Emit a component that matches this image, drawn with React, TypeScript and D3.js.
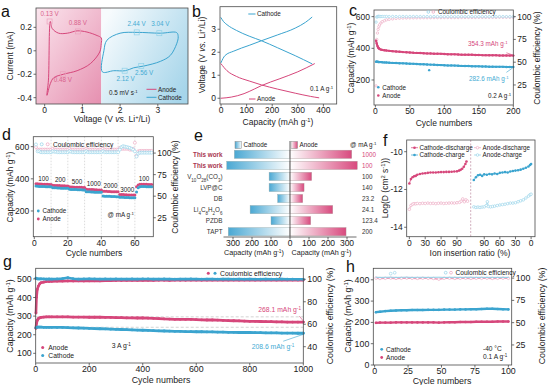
import React from 'react'
import * as d3 from 'd3'

// ---------- a: CV loops (V, mA) ----------
const aAnodeV = [0.06, 0.1, 0.15, 0.2, 0.37, 0.6, 0.86, 1.12, 1.39, 1.5, 1.5, 1.46, 1.21, 0.86, 0.5, 0.24, 0.15]
const aAnodeI = [-0.38, -0.25, 0.25, 0.19, 0.15, 0.15, 0.17, 0.16, 0.13, 0.11, 0.06, -0.01, -0.11, -0.17, -0.2, -0.23, -0.28]
const aCathV = [1.53, 1.57, 1.65, 2.0, 2.45, 3.07, 3.5, 3.54, 3.5, 3.33, 3.07, 2.63, 2.36, 2.14, 1.83]
const aCathI = [-0.18, 0.0, 0.09, 0.15, 0.157, 0.15, 0.155, 0.12, 0.06, -0.04, -0.09, -0.13, -0.145, -0.17, -0.17]
const aAnodePeakV = [0.13, 0.88, 0.48]
const aAnodePeakI = [0.25, 0.165, -0.2]
const aCathPeakV = [2.44, 3.04, 2.12, 2.56]
const aCathPeakI = [0.157, 0.15, -0.17, -0.13]

// ---------- b: charge/discharge profiles ----------
const bCathDisCap = [0, 10, 23, 60, 110, 158, 220, 290, 355]
const bCathDisV = [3.5, 3.33, 3.2, 2.95, 2.7, 2.5, 2.2, 1.85, 1.5]
const bCathChgCap = [0, 15, 50, 110, 158, 220, 290, 330, 355]
const bCathChgV = [1.55, 1.85, 2.05, 2.3, 2.5, 2.75, 3.05, 3.3, 3.52]
const bAnDisCap = [0, 23, 60, 110, 158, 220, 290, 350, 382]
const bAnDisV = [1.5, 1.2, 0.95, 0.75, 0.58, 0.4, 0.22, 0.08, 0.02]
const bAnChgCap = [0, 40, 90, 130, 158, 230, 300, 365]
const bAnChgV = [0.0, 0.05, 0.2, 0.4, 0.55, 0.85, 1.15, 1.5]

// ---------- c: cycling at 0.2 A/g ----------
const cCycles = [1, 2, 3, 4, 5, 6, 8, 10, 13, 16, 20, 25, 30, 35, 40, 45, 50, 55, 60, 65, 70, 75, 80, 85, 90, 95, 100, 105, 110, 115, 120, 125, 130, 135, 140, 145, 150, 155, 160, 165, 170, 175, 180, 185, 190, 195, 200]
const cAnode = [448, 430, 415, 405, 400, 396, 392, 390, 388, 386, 384, 382, 380, 378, 376, 375, 374, 372, 371, 370, 369, 368, 367, 366, 366, 365, 364, 363, 362, 362, 361, 360, 360, 359, 359, 358, 358, 357, 357, 356, 356, 356, 355, 355, 355, 354, 354]
const cCathode = [315, 316, 315, 314, 314, 313, 313, 312, 311, 310, 309, 308, 307, 306, 305, 304, 303, 302, 301, 300, 299, 298, 297, 296, 295, 294, 293, 292, 292, 291, 290, 289, 288, 288, 287, 286, 286, 285, 285, 284, 284, 283, 283, 283, 282, 282, 282]
const cCEAnode = [24, 75, 82, 86, 89, 91, 93, 94.5, 95.5, 96.5, 97, 97.5, 98, 98.2, 98.4, 98.5, 98.6, 98.6, 98.7, 98.7, 98.8, 98.8, 98.8, 98.9, 98.9, 98.9, 99, 99, 99, 99, 99, 99.1, 99.1, 99.1, 99.1, 99.1, 99.2, 99.2, 99.2, 99.2, 99.2, 99.2, 99.3, 99.3, 99.3, 99.3, 99.3]
const cCECathode = [94, 99.5, 100, 100.3, 100.2, 100.2, 100.1, 100.2, 100.1, 100.2, 100.1, 100.2, 100.1, 100.1, 100.2, 100.1, 100.1, 100.2, 100.1, 100.1, 100.1, 100.1, 100, 100.1, 100.1, 100, 100.1, 100, 100.1, 100, 100, 100.1, 100, 100, 100.1, 100, 100, 100.1, 100, 100, 100, 100, 100.1, 100, 100, 100, 100]
const cCathOutCycle = [78]
const cCathOutValue = [262]

// ---------- d: rate capability ----------
const dAnode = [
  370, 369, 368, 368, 367, 367, 366, 366, 365, 365,
  360, 359, 359, 358, 358, 357, 357, 357, 356, 356,
  350, 349, 349, 348, 348, 347, 347, 347, 346, 346,
  335, 334, 334, 333, 333, 332, 332, 331, 331, 331,
  323, 322, 322, 321, 321, 320, 320, 320, 319, 319,
  303, 302, 302, 301, 301, 300, 300, 300, 299, 299,
  350, 362, 366, 367, 367, 366, 366, 365, 365, 364]
const dCathode = [
  355, 354, 353, 353, 352, 352, 351, 351, 351, 350,
  345, 344, 344, 343, 343, 342, 342, 342, 341, 341,
  335, 334, 334, 333, 333, 332, 332, 332, 331, 331,
  320, 319, 319, 318, 318, 317, 317, 317, 316, 316,
  293, 292, 292, 291, 291, 290, 290, 290, 289, 289,
  286, 285, 285, 284, 284, 284, 283, 283, 283, 282,
  318, 345, 350, 352, 352, 352, 351, 351, 351, 350]
const dCEAnode = [
  107, 104, 104, 104, 104, 104, 104, 104, 104, 104,
  105, 104, 104, 104, 104, 104, 104, 104, 104, 104,
  105, 104, 104, 104, 104, 104, 104, 104, 104, 104,
  105, 104, 104, 104, 104, 104, 104, 103.5, 104, 104,
  105, 104, 104, 104, 104, 104, 104, 104, 104, 104,
  106, 105, 105, 105, 105, 105, 104, 104, 105, 112,
  97, 102, 102.5, 102.5, 102.5, 102.5, 102.5, 102.5, 102.5, 102.5]
const dCECathode = [
  110, 102, 102, 101, 101, 101, 101, 101, 101, 101,
  102, 101.5, 101.5, 101, 101, 101, 101, 101, 101, 101,
  102, 101.5, 101, 101, 101, 101, 101, 101, 101, 101,
  102, 101, 101, 101, 101, 101, 101, 101, 101, 101,
  102, 101, 101, 101, 101, 101, 101, 101, 101, 101,
  104, 107, 108, 107.5, 107, 106.5, 106, 105, 104, 102,
  96, 99.5, 100.5, 100.5, 100.5, 100.5, 100.5, 100.5, 100.5, 100.5]
const dSteps = [10, 20, 30, 40, 50, 60]
const dRates = ['100', '200', '500', '1000', '2000', '3000', '100']

// ---------- e: comparison ----------
const eNames = ['This work', 'This work', 'V10O28(CO3)', 'LVP@C', 'DB', 'Li4C8H2O6', 'PZDB', 'TAPT']
const eCathode = [293, 333, 110, 110, 65, 210, 100, 325]
const eAnode = [325, 354, 114, 74, 67, 225, 109, 295]
const eRates = ['1000', '100', '100', '140', '23.2', '24.1', '123.4', '200']

// ---------- f: GITT diffusion ----------
const fCathDisRatio = [0, 3, 6, 9, 12, 15, 20, 25, 30, 35, 40, 45, 50, 55, 60, 65, 70, 75, 80, 85, 90, 94, 97, 100, 103, 106, 108]
const fCathDisLogD = [-11.68, -11.45, -11.35, -11.3, -11.28, -11.22, -11.18, -11.15, -11.14, -11.12, -11.1, -11.1, -11.1, -11.09, -11.08, -11.08, -11.07, -11.07, -11.06, -11.05, -11.04, -11.0, -10.96, -10.9, -10.8, -10.65, -10.52]
const fAnDisRatio = [0, 3, 6, 9, 12, 15, 20, 25, 30, 35, 40, 45, 50, 55, 60, 65, 70, 75, 80, 85, 90, 95, 98, 101, 104, 107, 110]
const fAnDisLogD = [-13.05, -12.85, -12.78, -12.75, -12.76, -12.74, -12.75, -12.73, -12.74, -12.72, -12.74, -12.73, -12.75, -12.73, -12.72, -12.74, -12.73, -12.72, -12.71, -12.72, -12.7, -12.68, -12.62, -12.5, -12.65, -12.55, -12.62]
const fCathChgRatio = [110, 106, 102, 98, 94, 90, 85, 80, 75, 70, 65, 60, 55, 50, 45, 40, 35, 30, 25, 20, 15, 10, 5, 2, 0]
const fCathChgLogD = [-11.5, -11.35, -11.25, -11.22, -11.28, -11.2, -11.22, -11.18, -11.2, -11.15, -11.18, -11.12, -11.1, -11.08, -11.1, -11.05, -11.02, -11.0, -10.98, -10.95, -10.9, -10.85, -10.78, -10.7, -10.65]
const fAnChgRatio = [110, 106, 102, 98, 94, 90, 86, 84, 82, 78, 74, 70, 65, 60, 55, 50, 45, 40, 35, 30, 25, 20, 15, 10, 5, 2, 0]
const fAnChgLogD = [-12.92, -12.95, -12.93, -12.95, -12.93, -12.92, -12.85, -12.65, -12.9, -12.92, -12.9, -12.88, -12.85, -12.82, -12.8, -12.78, -12.75, -12.72, -12.72, -12.7, -12.65, -12.6, -12.55, -12.45, -12.35, -12.28, -12.25]

// ---------- g: long cycling at 3 A/g ----------
const gCycles = [1, 3, 6, 10, 15, 20, 30, 40, 50, 60, 80, 100, 120, 140, 160, 180, 200, 220, 240, 260, 280, 300, 320, 340, 360, 380, 400, 420, 440, 460, 480, 500, 520, 540, 560, 580, 600, 620, 640, 660, 680, 700, 720, 740, 760, 780, 800, 820, 840, 860, 880, 900, 920, 940, 960, 980, 1000]
const gAnode = [235, 262, 278, 287, 291, 293, 295, 296, 296, 296, 296, 296, 296, 295, 295, 295, 294, 294, 294, 293, 293, 292, 292, 291, 291, 290, 290, 289, 288, 287, 285, 284, 283, 283, 282, 282, 281, 280, 279, 279, 278, 277, 276, 275, 274, 273, 272, 272, 271, 270, 270, 269, 269, 268, 268, 268, 268]
const gCathode = [238, 240, 241, 241, 241, 241, 240, 240, 240, 240, 239, 239, 238, 237, 236, 235, 234, 233, 232, 231, 230, 229, 228, 227, 226, 225, 224, 223, 222, 221, 220, 219, 218, 218, 217, 217, 216, 216, 215, 215, 214, 214, 213, 213, 212, 212, 212, 211, 211, 210, 210, 210, 209, 209, 209, 208, 208]
const gCEAnode = [70, 84, 91, 94, 96, 97, 97.5, 98, 98, 98.2, 98.3, 98.4, 98.5, 98.5, 98.6, 98.5, 98.6, 98.7, 98.6, 98.8, 98.8, 98.9, 98.9, 99, 99, 99, 99, 99.1, 99, 99.1, 99.1, 99, 99.2, 99.1, 99.1, 99.2, 99.2, 99.1, 99.2, 99.2, 99.3, 99.2, 99.2, 99.3, 99.2, 99.3, 99.3, 99.2, 99.3, 99.3, 99.3, 99.2, 99.3, 99.3, 99.4, 99.3, 99.3]
const gCECathode = [101, 100.6, 100.4, 100.3, 100.3, 100.4, 100.3, 100.2, 100.3, 100.2, 100.3, 100.6, 101.4, 100.5, 100.2, 100.3, 100.4, 100.3, 100.2, 100.3, 100.2, 100.3, 100.2, 100.2, 100.3, 100.2, 100.3, 100.3, 100.2, 100.2, 100.3, 100.2, 100.1, 100.2, 100.2, 100.3, 100.2, 100.1, 100.2, 100.2, 100.1, 100.2, 100.2, 100.1, 100.2, 100.1, 100.2, 100.1, 100.1, 100.2, 100.1, 100.1, 100.2, 100.1, 100.1, 100.0, 100.0]
const gGuides = [296, 240]

// ---------- h: -40 °C cycling ----------
const hCycles = [1, 4, 8, 12, 16, 20, 24, 28, 32, 36, 40, 44, 48, 52, 56, 60, 64, 68, 72, 76, 80, 84, 88, 92, 96, 100]
const hCathode = [248, 250, 253, 255, 256, 257, 257, 258, 258, 258, 259, 259, 259, 260, 260, 260, 261, 261, 262, 262, 263, 264, 264, 263, 262, 261]
const hAnode = [198, 199, 199, 199, 200, 200, 200, 200, 200, 200, 200, 200, 199, 200, 201, 201, 202, 202, 202, 203, 203, 203, 203, 204, 204, 204]
const hCEAnode = [100, 99.6, 99.8, 100, 99.7, 99.8, 100, 99.8, 99.7, 99.9, 99.8, 99.6, 98.8, 99.8, 99.9, 99.7, 99.8, 99.9, 99.7, 99.8, 99.8, 99.9, 99.7, 99.8, 99.9, 99.8]
const hCECathode = [101, 100.8, 100.9, 101, 100.8, 100.9, 101, 100.8, 100.9, 100.9, 100.8, 100.9, 101, 100.8, 100.9, 100.9, 100.8, 100.9, 101, 100.8, 100.9, 100.8, 100.9, 100.8, 100.9, 100.8]
const hCEOutCycle = [12, 15]
const hCEOutValue = [105, 106]

const PINK = '#d6477b'
const BLUE = '#3ba4cf'
const PINK_L = '#eba2bd'
const BLUE_L = '#8fd0e7'
const AX = '#4a4a4a'
const FONT = '"Liberation Sans", Arial, Helvetica, sans-serif'

const zip = (a: number[], b: number[]) => a.map((v, i) => [v, b[i]] as [number, number])
const sup = (s: string) => <tspan baselineShift="super" fontSize="68%">{s}</tspan>
const gUnit = <>(mAh g{sup('-1')})</>

type Sc = d3.ScaleLinear<number, number>

function Frame({ x, y }: { x: Sc; y: Sc }) {
  const [x0, x1] = x.range()
  const [y0, y1] = y.range()
  return <rect x={Math.min(x0, x1)} y={Math.min(y0, y1)} width={Math.abs(x1 - x0)} height={Math.abs(y1 - y0)} fill="none" stroke={AX} strokeWidth={0.8} />
}

function XAxis({ s, ticks, y, fs = 8.5 }: { s: Sc; ticks: number[]; y: number; fs?: number }) {
  return (
    <g>
      {ticks.map((t, i) => (
        <g key={i}>
          <line x1={s(t)} x2={s(t)} y1={y} y2={y + 2.5} stroke={AX} strokeWidth={0.8} />
          <text x={s(t)} y={y + 3 + fs * 0.72} fontSize={fs} textAnchor="middle" fill="#222">{t}</text>
        </g>
      ))}
    </g>
  )
}

function YAxis({ s, ticks, x, right = false, fs = 8.5 }: { s: Sc; ticks: number[]; x: number; right?: boolean; fs?: number }) {
  const d = right ? 1 : -1
  return (
    <g>
      {ticks.map((t, i) => (
        <g key={i}>
          <line x1={x} x2={x + d * 2.5} y1={s(t)} y2={s(t)} stroke={AX} strokeWidth={0.8} />
          <text x={x + d * 4} y={s(t) + fs * 0.35} fontSize={fs} textAnchor={right ? 'start' : 'end'} fill="#222">{t}</text>
        </g>
      ))}
    </g>
  )
}

function VTitle({ x, y, fs = 8.5, children }: { x: number; y: number; fs?: number; children: React.ReactNode }) {
  return <text transform={`translate(${x},${y}) rotate(-90)`} textAnchor="middle" fontSize={fs} fill="#222">{children}</text>
}

function Dots({ xs, ys, x, y, r = 1.3, fill, stroke, sw = 0.6 }: { xs: number[]; ys: number[]; x: Sc; y: Sc; r?: number; fill: string; stroke?: string; sw?: number }) {
  return <g>{xs.map((v, i) => <circle key={i} cx={x(v)} cy={y(ys[i])} r={r} fill={fill} stroke={stroke || 'none'} strokeWidth={sw} />)}</g>
}

function Trace({ xs, ys, x, y, color, w = 2.2, curve = d3.curveLinear }: { xs: number[]; ys: number[]; x: Sc; y: Sc; color: string; w?: number; curve?: d3.CurveFactory }) {
  const line = d3.line<[number, number]>().x(d => x(d[0])).y(d => y(d[1])).curve(curve)
  return <path d={line(zip(xs, ys)) || ''} fill="none" stroke={color} strokeWidth={w} strokeLinejoin="round" strokeLinecap="round" />
}

const chem = (s: string) => s.split(/(\d+)/).map((p, i) => /^\d+$/.test(p)
  ? <tspan key={i} baselineShift="sub" fontSize="72%">{p}</tspan>
  : <tspan key={i}>{p}</tspan>)

const PanelLabel = ({ x, y, t }: { x: number; y: number; t: string }) => <text x={x} y={y} fontSize={16} fill="#111">{t}</text>

export default function App() {
  // scales
  const aX = d3.scaleLinear().domain([-0.23, 3.8]).range([36, 188])
  const aY = d3.scaleLinear().domain([-0.454, 0.365]).range([104, 8])
  const bX = d3.scaleLinear().domain([-4, 452]).range([220, 336.7])
  const bY = d3.scaleLinear().domain([-0.25, 3.98]).range([104, 6.7])
  const cX = d3.scaleLinear().domain([-2, 200]).range([374, 513.3])
  const cY = d3.scaleLinear().domain([42, 642]).range([105, 10])
  const cY2 = d3.scaleLinear().domain([3, 107.3]).range([105, 10])
  const dX = d3.scaleLinear().domain([-0.6, 71]).range([33.3, 153.3])
  const dY = d3.scaleLinear().domain([40, 662]).range([236.7, 136.7])
  const dY2 = d3.scaleLinear().domain([3, 119]).range([236.7, 136.7])
  const eL = d3.scaleLinear().domain([0, 100]).range([290, 271])
  const eR = d3.scaleLinear().domain([0, 100]).range([290, 309])
  const eY = d3.scaleBand<number>().domain(eNames.map((_, i) => i)).range([147.4, 238.6]).padding(0.25)
  const fXL = d3.scaleLinear().domain([-5, 116]).range([406.7, 470.7])
  const fXR = d3.scaleLinear().domain([116, -7.5]).range([470.7, 535])
  const fY = d3.scaleLinear().domain([-14.5, -9.38]).range([236.7, 140])
  const gX = d3.scaleLinear().domain([0, 1000]).range([35.7, 303.3])
  const gY = d3.scaleLinear().domain([48, 557]).range([363, 268.3])
  const gY2 = d3.scaleLinear().domain([25.5, 109.8]).range([363, 268.3])
  const hX = d3.scaleLinear().domain([-1, 102.5]).range([373.3, 511.7])
  const hY = d3.scaleLinear().domain([0, 454]).range([365, 268.3])
  const hY2 = d3.scaleLinear().domain([2.5, 111]).range([365, 268.3])

  const cv = d3.line<[number, number]>().x(d => aX(d[0])).y(d => aY(d[1])).curve(d3.curveCatmullRomClosed.alpha(0.5))
  const dIdx = dAnode.map((_, i) => i + 1)
  const eBh = eY.bandwidth()
  const fs = 6.3

  return (
    <svg width={549} height={385} fontFamily={FONT} style={{ position: 'absolute', left: 0, top: 0, background: '#fff' }}>
      <defs>
        <linearGradient id="aPink" x1="0" y1="0" x2="1" y2="1">
          <stop offset="0" stopColor="#fbe6ee" />
          <stop offset="1" stopColor="#e690b0" />
        </linearGradient>
        <linearGradient id="aBlue" x1="0" y1="0.2" x2="1" y2="0.8">
          <stop offset="0" stopColor="#f7fbfd" />
          <stop offset="1" stopColor="#a6d5ea" />
        </linearGradient>
        <linearGradient id="eCat" x1="0" y1="0" x2="1" y2="0">
          <stop offset="0" stopColor="#4aa8d3" />
          <stop offset="1" stopColor="#ffffff" />
        </linearGradient>
        <linearGradient id="eAn" x1="0" y1="0" x2="1" y2="0">
          <stop offset="0" stopColor="#ffffff" />
          <stop offset="1" stopColor="#d84a7e" />
        </linearGradient>
      </defs>

      {/* ---------------- a ---------------- */}
      <PanelLabel x={1} y={17} t="a" />
      <rect x={aX(-0.23)} y={aY(0.365)} width={aX(1.5) - aX(-0.23)} height={aY(-0.454) - aY(0.365)} fill="url(#aPink)" />
      <rect x={aX(1.5)} y={aY(0.365)} width={aX(3.8) - aX(1.5)} height={aY(-0.454) - aY(0.365)} fill="url(#aBlue)" />
      <path d={cv(zip(aAnodeV, aAnodeI)) || ''} fill="none" stroke={PINK} strokeWidth={1} />
      <path d={cv(zip(aCathV, aCathI)) || ''} fill="none" stroke={BLUE} strokeWidth={1} />
      {aAnodePeakV.map((v, i) => {
        const off = [[0, -5.5], [0, -6.5], [0, 8]][i]
        return (
          <g key={'ap' + i}>
            <rect x={aX(v) - 2.5} y={aY(aAnodePeakI[i]) - 2.5} width={5} height={5} fill="none" stroke={PINK_L} strokeWidth={0.7} />
            <text x={aX(v) + off[0]} y={aY(aAnodePeakI[i]) + off[1]} fontSize={fs} fill="#d9628c" textAnchor="middle">{v.toFixed(2)} V</text>
          </g>
        )
      })}
      {aCathPeakV.map((v, i) => {
        const off = [[0, -6.5], [1, -7], [1, 10], [3, 9]][i]
        return (
          <g key={'cp' + i}>
            <rect x={aX(v) - 2.5} y={aY(aCathPeakI[i]) - 2.5} width={5} height={5} fill="none" stroke={BLUE_L} strokeWidth={0.7} />
            <text x={aX(v) + off[0]} y={aY(aCathPeakI[i]) + off[1]} fontSize={fs} fill="#45abd3" textAnchor="middle">{v.toFixed(2)} V</text>
          </g>
        )
      })}
      <Frame x={aX} y={aY} />
      <XAxis s={aX} ticks={[0, 1, 2, 3]} y={104} />
      <YAxis s={aY} ticks={[-0.4, -0.2, 0, 0.2]} x={36} />
      <text x={109} y={95} fontSize={fs} fill="#222">0.5 mV s{sup('-1')}</text>
      <line x1={146.5} x2={156.5} y1={89.3} y2={89.3} stroke={PINK} strokeWidth={1} />
      <text x={158} y={91.5} fontSize={fs} fill="#222">Anode</text>
      <line x1={146.5} x2={156.5} y1={97.3} y2={97.3} stroke={BLUE} strokeWidth={1} />
      <text x={158} y={99.5} fontSize={fs} fill="#222">Cathode</text>
      <text x={112} y={122} fontSize={8.5} textAnchor="middle" fill="#222">Voltage (V <tspan fontStyle="italic">vs.</tspan> Li{sup('+')}/Li)</text>
      <VTitle x={13} y={56}>Current (mA)</VTitle>

      {/* ---------------- b ---------------- */}
      <PanelLabel x={192} y={17} t="b" />
      <Trace xs={bCathDisCap} ys={bCathDisV} x={bX} y={bY} color={BLUE} w={1} curve={d3.curveMonotoneX} />
      <Trace xs={bCathChgCap} ys={bCathChgV} x={bX} y={bY} color={BLUE} w={1} curve={d3.curveMonotoneX} />
      <Trace xs={bAnDisCap} ys={bAnDisV} x={bX} y={bY} color={PINK} w={1} curve={d3.curveMonotoneX} />
      <Trace xs={bAnChgCap} ys={bAnChgV} x={bX} y={bY} color={PINK} w={1} curve={d3.curveMonotoneX} />
      <Frame x={bX} y={bY} />
      <XAxis s={bX} ticks={[0, 100, 200, 300, 400]} y={104} />
      <YAxis s={bY} ticks={[0, 1, 2, 3]} x={220} />
      <line x1={248.3} x2={255.5} y1={14} y2={14} stroke={BLUE} strokeWidth={1} />
      <text x={257} y={16.2} fontSize={fs} fill="#222">Cathode</text>
      <line x1={249} x2={255.5} y1={99} y2={99} stroke={PINK} strokeWidth={1} />
      <text x={257} y={101.2} fontSize={fs} fill="#222">Anode</text>
      <text x={310} y={91} fontSize={fs} fill="#222">0.1 A g{sup('-1')}</text>
      <text x={278} y={124.5} fontSize={8.5} textAnchor="middle" fill="#222">Capacity {gUnit}</text>
      <VTitle x={205} y={55}>Voltage (V <tspan fontStyle="italic">vs.</tspan> Li{sup('+')}/Li)</VTitle>

      {/* ---------------- c ---------------- */}
      <PanelLabel x={349} y={16} t="c" />
      <Dots xs={cCycles} ys={cCEAnode} x={cX} y={cY2} r={1.2} fill="#fff" stroke={PINK_L} />
      <Dots xs={cCycles} ys={cCECathode} x={cX} y={cY2} r={1.2} fill="#fff" stroke={BLUE_L} />
      <Trace xs={cCycles} ys={cAnode} x={cX} y={cY} color={PINK} w={2} />
      <Dots xs={cCycles} ys={cAnode} x={cX} y={cY} r={1.2} fill={PINK} />
      <Trace xs={cCycles} ys={cCathode} x={cX} y={cY} color={BLUE} w={2} />
      <Dots xs={cCycles} ys={cCathode} x={cX} y={cY} r={1.2} fill={BLUE} />
      <Dots xs={cCathOutCycle} ys={cCathOutValue} x={cX} y={cY} r={1.2} fill={BLUE} />
      <Frame x={cX} y={cY} />
      <XAxis s={cX} ticks={[0, 50, 100, 150, 200]} y={105} />
      <YAxis s={cY} ticks={[200, 400, 600]} x={374} />
      <YAxis s={cY2} ticks={[25, 50, 75, 100]} x={513.3} right />
      <circle cx={428.3} cy={12} r={1.3} fill="#fff" stroke={BLUE_L} strokeWidth={0.7} />
      <circle cx={433.3} cy={12} r={1.3} fill="#fff" stroke={PINK_L} strokeWidth={0.7} />
      <text x={438} y={14.2} fontSize={fs} fill="#222">Coulombic efficiency</text>
      <text x={468} y={45.5} fontSize={fs} fill={PINK}>{cAnode[cAnode.length - 1] + 0.3} mAh g{sup('-1')}</text>
      <line x1={cX(190)} y1={cY(372)} x2={cX(199)} y2={cY(358)} stroke={PINK} strokeWidth={0.6} />
      <text x={469} y={80.5} fontSize={fs} fill="#45abd3">{cCathode[cCathode.length - 1] + 0.6} mAh g{sup('-1')}</text>
      <line x1={cX(190)} y1={cY(248)} x2={cX(199)} y2={cY(276)} stroke={BLUE} strokeWidth={0.6} />
      <circle cx={378.3} cy={87.3} r={1.3} fill={BLUE} />
      <text x={382.3} y={89.5} fontSize={fs} fill="#222">Cathode</text>
      <circle cx={378.3} cy={95.5} r={1.3} fill={PINK} />
      <text x={382.3} y={97.7} fontSize={fs} fill="#222">Anode</text>
      <text x={488} y={98} fontSize={fs} fill="#222">0.2 A g{sup('-1')}</text>
      <text x={444} y={125.5} fontSize={8.5} textAnchor="middle" fill="#222">Cycle numbers</text>
      <VTitle x={354.3} y={58}>Capacity {gUnit}</VTitle>
      <VTitle x={540} y={58}>Coulombic efficiency (%)</VTitle>

      {/* ---------------- d ---------------- */}
      <PanelLabel x={2} y={140} t="d" />
      {dSteps.map(s => <line key={s} x1={dX(s)} x2={dX(s)} y1={136.7} y2={236.7} stroke="#c4c4c4" strokeWidth={0.6} strokeDasharray="1.5 1.5" />)}
      <Dots xs={dIdx} ys={dCEAnode} x={dX} y={dY2} r={1.5} fill="#fff" stroke={PINK_L} />
      <Dots xs={dIdx} ys={dCECathode} x={dX} y={dY2} r={1.5} fill="#fff" stroke={BLUE_L} />
      <Dots xs={dIdx} ys={dAnode} x={dX} y={dY} r={1.5} fill={PINK} />
      <Dots xs={dIdx} ys={dCathode} x={dX} y={dY} r={1.5} fill={BLUE} />
      {dRates.map((r, i) => (
        <text key={i} x={dX(i * 10 + 5.5)} y={dY(dAnode[i * 10 + 2]) - 3} fontSize={fs} textAnchor="middle" fill="#222">{r}</text>
      ))}
      <Frame x={dX} y={dY} />
      <XAxis s={dX} ticks={[0, 20, 40, 60]} y={236.7} />
      <YAxis s={dY} ticks={[200, 400, 600]} x={33.3} />
      <YAxis s={dY2} ticks={[25, 50, 75, 100]} x={153.3} right />
      <circle cx={41.7} cy={144.3} r={1.5} fill="#fff" stroke={BLUE_L} strokeWidth={0.7} />
      <circle cx={47.7} cy={144.3} r={1.5} fill="#fff" stroke={PINK_L} strokeWidth={0.7} />
      <text x={53} y={146.6} fontSize={6.6} fill="#222">Coulombic efficiency</text>
      <circle cx={38.3} cy={211} r={1.4} fill={BLUE} />
      <text x={42.5} y={213.3} fontSize={fs} fill="#222">Cathode</text>
      <circle cx={38.3} cy={219} r={1.4} fill={PINK} />
      <text x={42.5} y={221.3} fontSize={fs} fill="#222">Anode</text>
      <text x={107.5} y={217} fontSize={fs} fill="#222">@ mA g{sup('-1')}</text>
      <text x={94} y={256} fontSize={8.5} textAnchor="middle" fill="#222">Cycle numbers</text>
      <VTitle x={13} y={187}>Capacity {gUnit}</VTitle>
      <VTitle x={178} y={187}>Coulombic efficiency (%)</VTitle>

      {/* ---------------- e ---------------- */}
      <PanelLabel x={194} y={141} t="e" />
      {eNames.map((n, i) => (
        <g key={i}>
          <rect x={eL(eCathode[i])} y={eY(i)} width={eL(0) - eL(eCathode[i])} height={eBh} fill="url(#eCat)" stroke="#9aa" strokeWidth={0.4} />
          <rect x={eR(0)} y={eY(i)} width={eR(eAnode[i]) - eR(0)} height={eBh} fill="url(#eAn)" stroke="#a99" strokeWidth={0.4} />
          <text x={222.5} y={(eY(i) || 0) + eBh / 2 + 2.2} fontSize={6.3} textAnchor="end" fill={i < 2 ? '#a8364f' : '#333'} fontWeight={i < 2 ? 'bold' : 'normal'}>{chem(n)}</text>
          <text x={362} y={(eY(i) || 0) + eBh / 2 + 2.2} fontSize={6.3} fill={i < 2 ? PINK : '#333'}>{eRates[i]}</text>
        </g>
      ))}
      <line x1={290} x2={290} y1={141} y2={237} stroke="#222" strokeWidth={0.7} />
      <line x1={eL(350)} x2={eR(350)} y1={237} y2={237} stroke={AX} strokeWidth={0.8} />
      <XAxis s={eL} ticks={[300, 200, 100, 0]} y={237} />
      <XAxis s={eR} ticks={[100, 200, 300]} y={237} />
      <rect x={235} y={141.5} width={6.5} height={7} fill="url(#eCat)" stroke="#888" strokeWidth={0.5} />
      <text x={243.5} y={147.3} fontSize={fs} fill="#222">Cathode</text>
      <rect x={291} y={141.5} width={6.5} height={7} fill="url(#eAn)" stroke="#888" strokeWidth={0.5} />
      <text x={299.5} y={147.3} fontSize={fs} fill="#222">Anode</text>
      <text x={350} y={147} fontSize={fs} fill="#222">@ mA g{sup('-1')}</text>
      <text x={254} y={255.3} fontSize={7.2} textAnchor="middle" fill="#222">Capacity {gUnit}</text>
      <text x={321.5} y={255.3} fontSize={7.2} textAnchor="middle" fill="#222">Capacity {gUnit}</text>

      {/* ---------------- f ---------------- */}
      <PanelLabel x={383} y={146} t="f" />
      <line x1={470.7} x2={470.7} y1={140} y2={236.7} stroke="#b27a94" strokeWidth={0.6} strokeDasharray="2 1.5" />
      <Trace xs={fAnDisRatio} ys={fAnDisLogD} x={fXL} y={fY} color={PINK_L} w={0.7} />
      <Dots xs={fAnDisRatio} ys={fAnDisLogD} x={fXL} y={fY} r={1.3} fill="#fff" stroke={PINK_L} />
      <Trace xs={fAnChgRatio} ys={fAnChgLogD} x={fXR} y={fY} color={BLUE_L} w={0.7} />
      <Dots xs={fAnChgRatio} ys={fAnChgLogD} x={fXR} y={fY} r={1.3} fill="#fff" stroke={BLUE_L} />
      <Trace xs={fCathDisRatio} ys={fCathDisLogD} x={fXL} y={fY} color={PINK} w={0.8} />
      <Dots xs={fCathDisRatio} ys={fCathDisLogD} x={fXL} y={fY} r={1.3} fill={PINK} />
      <Trace xs={fCathChgRatio} ys={fCathChgLogD} x={fXR} y={fY} color={BLUE} w={0.8} />
      <Dots xs={fCathChgRatio} ys={fCathChgLogD} x={fXR} y={fY} r={1.3} fill={BLUE} />
      <Frame x={fXL.copy().range([406.7, 535])} y={fY} />
      <XAxis s={fXL} ticks={[0, 30, 60, 90]} y={236.7} />
      <XAxis s={fXR} ticks={[90, 60, 30, 0]} y={236.7} />
      <YAxis s={fY} ticks={[-14, -12, -10]} x={406.7} />
      <line x1={411} x2={418} y1={147.7} y2={147.7} stroke={PINK} strokeWidth={0.7} />
      <circle cx={414.5} cy={147.7} r={1.3} fill={PINK} />
      <text x={419.5} y={150} fontSize={fs} fill="#222">Cathode-discharge</text>
      <line x1={411} x2={418} y1={155} y2={155} stroke={BLUE} strokeWidth={0.7} />
      <circle cx={414.5} cy={155} r={1.3} fill={BLUE} />
      <text x={419.5} y={157.3} fontSize={fs} fill="#222">Cathode-charge</text>
      <line x1={474} x2={481} y1={147.7} y2={147.7} stroke={PINK_L} strokeWidth={0.7} />
      <circle cx={477.5} cy={147.7} r={1.3} fill="#fff" stroke={PINK_L} strokeWidth={0.6} />
      <text x={482.5} y={150} fontSize={fs} fill="#222">Anode-discharge</text>
      <line x1={474} x2={481} y1={155} y2={155} stroke={BLUE_L} strokeWidth={0.7} />
      <circle cx={477.5} cy={155} r={1.3} fill="#fff" stroke={BLUE_L} strokeWidth={0.6} />
      <text x={482.5} y={157.3} fontSize={fs} fill="#222">Anode-charge</text>
      <text x={470} y={256} fontSize={8.5} textAnchor="middle" fill="#222">Ion insertion ratio (%)</text>
      <VTitle x={387.5} y={188}>Log(D (cm{sup('2')} s{sup('-1')}))</VTitle>

      {/* ---------------- g ---------------- */}
      <PanelLabel x={3} y={267} t="g" />
      {gGuides.map(v => <line key={v} x1={35.7} x2={303.3} y1={gY(v)} y2={gY(v)} stroke="#b5b5b5" strokeWidth={0.6} strokeDasharray="3 2" />)}
      <Trace xs={gCycles} ys={gCEAnode} x={gX} y={gY2} color={PINK} w={2.6} />
      <Dots xs={gCycles} ys={gCEAnode} x={gX} y={gY2} r={1.4} fill={PINK} />
      <Trace xs={gCycles} ys={gCECathode} x={gX} y={gY2} color={BLUE} w={2.6} />
      <Dots xs={gCycles} ys={gCECathode} x={gX} y={gY2} r={1.4} fill={BLUE} />
      <Trace xs={gCycles} ys={gAnode} x={gX} y={gY} color={PINK} w={2.8} />
      <Dots xs={gCycles} ys={gAnode} x={gX} y={gY} r={1.4} fill={PINK} />
      <Trace xs={gCycles} ys={gCathode} x={gX} y={gY} color={BLUE} w={2.8} />
      <Dots xs={gCycles} ys={gCathode} x={gX} y={gY} r={1.4} fill={BLUE} />
      <Frame x={gX} y={gY} />
      <XAxis s={gX} ticks={[0, 200, 400, 600, 800, 1000]} y={363} fs={8.8} />
      <YAxis s={gY} ticks={[100, 200, 300, 400, 500]} x={35.7} fs={8.8} />
      <YAxis s={gY2} ticks={[40, 60, 80, 100]} x={303.3} right fs={8.8} />
      <circle cx={208.3} cy={273.3} r={1.5} fill={PINK} />
      <circle cx={215} cy={273.3} r={1.5} fill={BLUE} />
      <text x={220} y={275.7} fontSize={6.8} fill="#222">Coulombic efficiency</text>
      <text x={258.3} y={311.5} fontSize={6.8} fill={PINK}>{gAnode[gAnode.length - 1] + 0.1} mAh g{sup('-1')}</text>
      <line x1={gX(985)} y1={gY(300)} x2={gX(1000)} y2={gY(274)} stroke={PINK} strokeWidth={0.6} />
      <text x={251.7} y={349} fontSize={6.8} fill="#45abd3">{gCathode[gCathode.length - 1] + 0.6} mAh g{sup('-1')}</text>
      <line x1={gX(925)} y1={gY(165)} x2={gX(1000)} y2={gY(202)} stroke={BLUE} strokeWidth={0.6} />
      <circle cx={42.7} cy={347.5} r={1.5} fill={PINK} />
      <text x={48.3} y={349.8} fontSize={6.8} fill="#222">Anode</text>
      <circle cx={42.7} cy={355.5} r={1.5} fill={BLUE} />
      <text x={48.3} y={357.8} fontSize={6.8} fill="#222">Cathode</text>
      <text x={111.7} y={347.5} fontSize={6.8} fill="#222">3 A g{sup('-1')}</text>
      <text x={161} y={382.5} fontSize={8.8} textAnchor="middle" fill="#222">Cycle numbers</text>
      <VTitle x={13} y={316} fs={8.8}>Capacity {gUnit}</VTitle>
      <VTitle x={333} y={316} fs={8.8}>Coulombic efficiency (%)</VTitle>

      {/* ---------------- h ---------------- */}
      <PanelLabel x={346} y={271.5} t="h" />
      <Trace xs={hCycles} ys={hCEAnode} x={hX} y={hY2} color={PINK_L} w={1.6} />
      <Dots xs={hCycles} ys={hCEAnode} x={hX} y={hY2} r={1.3} fill="#fff" stroke={PINK_L} />
      <Trace xs={hCycles} ys={hCECathode} x={hX} y={hY2} color={BLUE_L} w={1} />
      <Dots xs={hCEOutCycle} ys={hCEOutValue} x={hX} y={hY2} r={1.4} fill="#fff" stroke={BLUE_L} />
      <Trace xs={hCycles} ys={hCathode} x={hX} y={hY} color={BLUE} w={2.4} />
      <Dots xs={hCycles} ys={hCathode} x={hX} y={hY} r={1.3} fill={BLUE} />
      <Trace xs={hCycles} ys={hAnode} x={hX} y={hY} color={PINK} w={2.4} />
      <Dots xs={hCycles} ys={hAnode} x={hX} y={hY} r={1.3} fill={PINK} />
      <Frame x={hX} y={hY} />
      <XAxis s={hX} ticks={[0, 25, 50, 75, 100]} y={365} fs={8.8} />
      <YAxis s={hY} ticks={[0, 100, 200, 300, 400]} x={373.3} fs={8.8} />
      <YAxis s={hY2} ticks={[25, 50, 75, 100]} x={511.7} right fs={8.8} />
      <circle cx={445.7} cy={272.7} r={1.4} fill="#fff" stroke={BLUE_L} strokeWidth={0.7} />
      <circle cx={451} cy={272.7} r={1.4} fill="#fff" stroke={PINK_L} strokeWidth={0.7} />
      <text x={455.5} y={275} fontSize={6.6} fill="#222">Coulombic efficiency</text>
      <circle cx={381.7} cy={349.3} r={1.4} fill={BLUE} />
      <text x={386} y={351.6} fontSize={6.6} fill="#222">Cathode</text>
      <circle cx={381.7} cy={357.5} r={1.4} fill={PINK} />
      <text x={386} y={359.8} fontSize={6.6} fill="#222">Anode</text>
      <text x={483} y={350.5} fontSize={6.6} fill="#222">-40 °C</text>
      <text x={483} y={359} fontSize={6.6} fill="#222">0.1 A g{sup('-1')}</text>
      <text x={442} y={383.5} fontSize={8.8} textAnchor="middle" fill="#222">Cycle numbers</text>
      <VTitle x={351} y={316} fs={8.8}>Capacity {gUnit}</VTitle>
      <VTitle x={545} y={316} fs={8.8}>Coulombic efficiency (%)</VTitle>
    </svg>
  )
}
